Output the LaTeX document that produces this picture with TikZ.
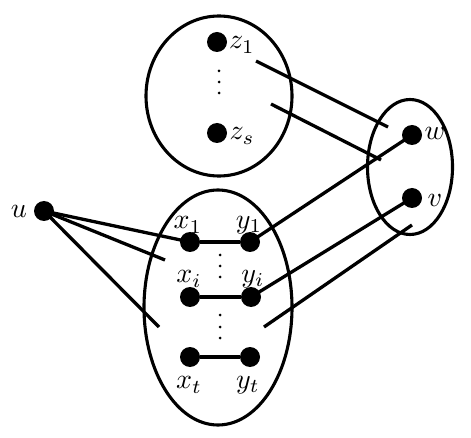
\documentclass[tikz,border=0pt]{standalone}
\begin{document}
\begin{tikzpicture}[x=1pt,y=-1pt,
  vtx/.style={circle,fill=black,inner sep=0pt,minimum size=20pt},
  lbl/.style={inner sep=0pt,scale=2.8},
  edge/.style={line width=3.3pt},
  ring/.style={line width=3.1pt},
  tiny/.style={circle,fill=black,inner sep=0pt,minimum size=3pt}]
\useasboundingbox (0,0) rectangle (471,438);
% ellipses
\draw[ring] (219,96) ellipse [x radius=73, y radius=80];
\draw[ring] (410,167) ellipse [x radius=42.5, y radius=67.5];
\draw[ring] (218,307.5) ellipse [x radius=74, y radius=117.5];
% vertices
\node[vtx] (z1) at (217,42) {};
\node[vtx] (zs) at (217,133) {};
\node[vtx] (w) at (412,135) {};
\node[vtx] (v) at (412,198) {};
\node[vtx] (u) at (44,211) {};
\node[vtx] (x1) at (190,242) {};
\node[vtx] (y1) at (250,242) {};
\node[vtx] (xi) at (190,297) {};
\node[vtx] (yi) at (251,297) {};
\node[vtx] (xt) at (190,357) {};
\node[vtx] (yt) at (250,357) {};
% labels
\node[lbl] (lz1) at (242,45) {$z_1$};
\node[lbl] (lzs) at (242,136) {$z_s$};
\node[lbl] (lw) at (435,133) {$w$};
\node[lbl] (lv) at (435,200) {$v$};
\node[lbl] (lu) at (19,211) {$u$};
\node[lbl] (lx1) at (188,225) {$x_1$};
\node[lbl] (ly1) at (249,225) {$y_1$};
\node[lbl] (lxi) at (189,279) {$x_i$};
\node[lbl] (lyi) at (253,279) {$y_i$};
\node[lbl] (lxt) at (189,385) {$x_t$};
\node[lbl] (lyt) at (248,385) {$y_t$};
% vertical dots
\foreach \n/\px/\py in {a1/219/71,a2/219/82,a3/219/93,b1/220/255,b2/220/266,b3/220/277,c1/220/315,c2/220/327,c3/220/338}
  \node[tiny] (d\n) at (\px,\py) {};
% free ends
\coordinate (e1) at (165,260);
\coordinate (e2) at (159,327);
\coordinate (f1) at (256,61);
\coordinate (f2) at (388,127);
\coordinate (g1) at (271,104);
\coordinate (g2) at (381,160);
\coordinate (h1) at (264,327);
\coordinate (h2) at (412,225);
% edges
\draw[edge] (x1) -- (y1);
\draw[edge] (xi) -- (yi);
\draw[edge] (xt) -- (yt);
\draw[edge] (u.center) -- (x1.center);
\draw[edge] (u.center) -- (e1);
\draw[edge] (u.center) -- (e2);
\draw[edge] (f1) -- (f2);
\draw[edge] (g1) -- (g2);
\draw[edge] (y1.center) -- (w.center);
\draw[edge] (yi.center) -- (v.center);
\draw[edge] (h1) -- (h2);
\end{tikzpicture}
\end{document}
